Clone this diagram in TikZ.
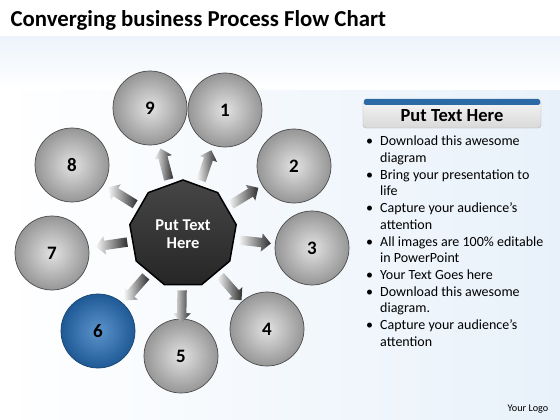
\documentclass[tikz,border=0pt]{standalone}
\usepackage{fontspec}
\setmainfont{Carlito}
\usetikzlibrary{shapes.geometric,shapes.arrows,calc}
\definecolor{bgblue}{HTML}{E8F1FA}
\definecolor{ballout}{HTML}{969696}
\definecolor{ballin}{HTML}{E2E2E2}
\definecolor{blueout}{HTML}{1F5A96}
\definecolor{bluein}{HTML}{5C93CC}
\definecolor{hdrblue}{HTML}{2C6AA6}
\tikzset{
  ball/.style={circle, minimum size=74pt, inner sep=0pt, inner color=ballin, outer color=ballout, draw=gray!60!black, line width=0.7pt, font=\bfseries\fontsize{19}{19}\selectfont},
  blueball/.style={ball, inner color=bluein, outer color=blueout, draw=blueout!75!black},
  arw/.style={single arrow, minimum height=32pt, inner sep=4.5pt, single arrow head extend=4.5pt, left color=gray!5, right color=gray!35!black, draw=none},
}
\begin{document}
\begin{tikzpicture}[x=1pt,y=-1pt]
\useasboundingbox (0,0) rectangle (560,420);
\fill[white] (0,0) rectangle (560,420);
\shade[left color=white, right color=bgblue] (0,37) rectangle (560,420);
\shade[top color=bgblue!80, bottom color=bgblue!0] (0,37) rectangle (560,90);
\node[anchor=west, font=\bfseries\fontsize{22.8}{22.8}\selectfont] (title) at (7,20) {Converging business Process Flow Chart};

\node[regular polygon, regular polygon sides=9, minimum size=108pt, inner sep=0pt, top color=gray!55!black, bottom color=black!85, draw=black, line width=1.5pt, text=white, align=center, font=\bfseries\fontsize{16.5}{18.5}\selectfont] (c) at (183,234) {Put Text\\Here};

\node[ball] (n9) at (150,108) {9};
\node[ball] (n1) at (225,110) {1};
\node[ball] (n2) at (294,166) {2};
\node[ball] (n3) at (312,248) {3};
\node[ball] (n4) at (267,329) {4};
\node[ball] (n5) at (181,356) {5};
\node[blueball] (n6) at (98,331) {6};
\node[ball] (n7) at (52,253) {7};
\node[ball] (n8) at (72,165) {8};

\foreach \k in {1,...,9}{
  \path let \p1=($(n\k)-(c)$), \n1={atan2(\y1,\x1)} in
    node[arw, rotate=\n1] (a\k) at ($(c)!70pt!(n\k)$) {};
}

% header box
\shade[top color=gray!8, bottom color=gray!30, draw=gray!60, rounded corners=3pt] (363,101) rectangle (541,128);
\fill[hdrblue, rounded corners=2pt] (364,99) rectangle (540,105);
\node[font=\bfseries\fontsize{18.5}{18.5}\selectfont] (hdr) at (452,116) {Put Text Here};

\node[anchor=north west, inner sep=0pt, font=\fontsize{14}{16.7}\selectfont] (list) at (366,134) {%
\begin{tabular}{@{}p{14pt}@{}l@{}}
\textbullet & Download this awesome\\
 & diagram\\
\textbullet & Bring your presentation to\\
 & life\\
\textbullet & Capture your audience’s\\
 & attention\\
\textbullet & All images are 100\% editable\\
 & in PowerPoint\\
\textbullet & Your Text Goes here\\
\textbullet & Download this awesome\\
 & diagram.\\
\textbullet & Capture your audience’s\\
 & attention
\end{tabular}};

\node[font=\fontsize{10.2}{10.2}\selectfont] (logo) at (528,409) {Your Logo};
\end{tikzpicture}
\end{document}
